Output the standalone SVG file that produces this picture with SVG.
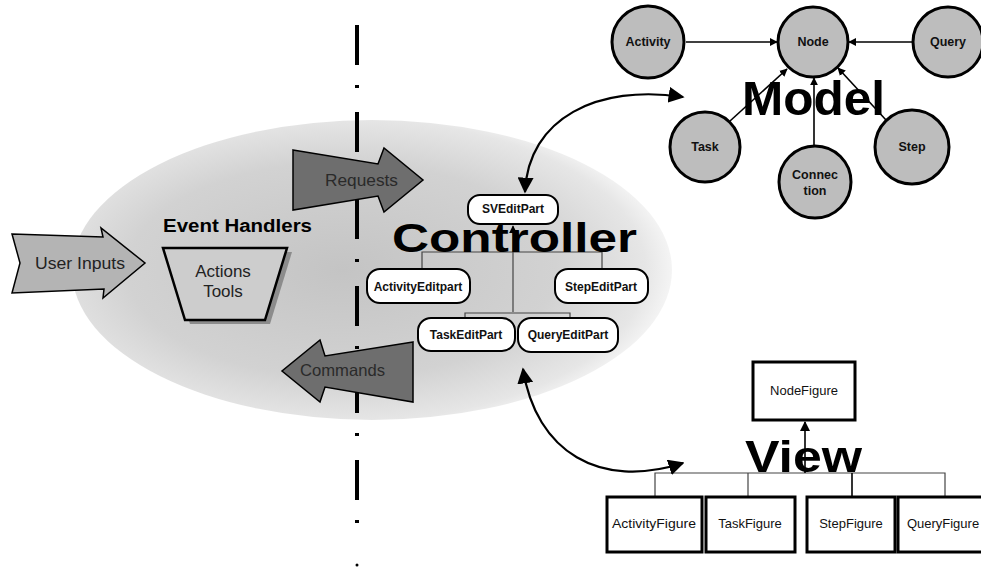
<svg xmlns="http://www.w3.org/2000/svg" width="981" height="570" viewBox="0 0 981 570">
  <defs>
    <radialGradient id="haze" cx="0.45" cy="0.5" r="0.55">
      <stop offset="0" stop-color="#c4c4c4"/>
      <stop offset="0.65" stop-color="#d2d2d2"/>
      <stop offset="0.92" stop-color="#e6e6e6"/>
      <stop offset="1" stop-color="#f4f4f4"/>
    </radialGradient>
    <marker id="ah" viewBox="0 0 10 10" refX="9" refY="5" markerWidth="10" markerHeight="10" markerUnits="userSpaceOnUse" orient="auto-start-reverse">
      <path d="M0,0 L10,5 L0,10 z" fill="#000"/>
    </marker>
    <marker id="ahs" viewBox="0 0 10 10" refX="9" refY="5" markerWidth="8" markerHeight="8" markerUnits="userSpaceOnUse" orient="auto-start-reverse">
      <path d="M0,0 L10,5 L0,10 z" fill="#000"/>
    </marker>
    <marker id="ahb" viewBox="0 0 10 10" refX="9" refY="5" markerWidth="16" markerHeight="16" markerUnits="userSpaceOnUse" orient="auto-start-reverse">
      <path d="M0,0 L10,5 L0,10 z" fill="#000"/>
    </marker>
  </defs>
  <style>
    text { font-family: "Liberation Sans", Arial, sans-serif; }
    .circ { fill: #bdbdbd; stroke: #000; stroke-width: 3; }
    .clbl { font-size: 12.5px; font-weight: bold; fill: #111; text-anchor: middle; }
    .pill { fill: #fff; stroke: #000; stroke-width: 2; }
    .plbl { font-size: 12px; font-weight: bold; fill: #111; text-anchor: middle; }
    .fig { fill: #fff; stroke: #000; stroke-width: 3; }
    .flbl { font-size: 13px; fill: #111; text-anchor: middle; }
    .big { font-weight: bold; fill: #000; }
    .tree { fill: none; stroke: #444; stroke-width: 1.2; }
    .conn { fill: none; stroke: #000; stroke-width: 1.6; }
    .curve { fill: none; stroke: #000; stroke-width: 2.2; }
    .blk { stroke: #000; stroke-width: 1.5; }
  </style>

  <!-- shaded event-handling area -->
  <ellipse cx="372" cy="270" rx="300" ry="150" fill="url(#haze)"/>

  <!-- boundary between input side and editor side -->
  <g id="divider">
    <line x1="357" y1="25" x2="357" y2="528" stroke="#000" stroke-width="4" stroke-dasharray="40 20 3 24"/>
    <circle cx="357" cy="565" r="1.5" fill="#000"/>
  </g>

  <!-- connectors -->
  <g id="connectors">
    <!-- model associations -->
    <path class="conn" d="M686 42 L777 42" marker-end="url(#ahs)"/>
    <path class="conn" d="M912 42 L849 42" marker-end="url(#ahs)"/>
    <path class="conn" d="M730 121 L787 69" marker-end="url(#ahs)"/>
    <path class="conn" d="M814 146 L814 78" marker-end="url(#ahs)"/>
    <path class="conn" d="M886 120 L838 68" marker-end="url(#ahs)"/>
    <!-- edit part tree -->
    <path class="tree" d="M513 312 L513 226" marker-end="url(#ahs)"/>
    <path class="tree" d="M422 269 L422 252 L602 252 L602 269"/>
    <path class="tree" d="M465 318 L465 313 L570 313 L570 318"/>
    <!-- figure tree -->
    <path class="tree" d="M655 497 L655 473 L945 473 L945 497"/>
    <path class="tree" d="M748 473 L748 497"/>
    <path class="conn" d="M852 473 L852 497"/>
    <path class="conn" d="M805 473 L805 422" marker-end="url(#ah)"/>
    <!-- controller to model / view -->
    <path class="curve" d="M525 192 C528 118, 598 84, 683 97" marker-start="url(#ahb)" marker-end="url(#ahb)"/>
    <path class="curve" d="M523 369 C536 452, 600 490, 683 463" marker-start="url(#ahb)" marker-end="url(#ahb)"/>
  </g>

  <!-- input side -->
  <g id="user-inputs">
    <polygon points="12,234 103,237 101,228 145,263 103,298 104,289 12,293 20,263" fill="#b4b4b4" class="blk"/>
    <text x="35" y="269" font-size="16" textLength="90" lengthAdjust="spacingAndGlyphs" fill="#222">User Inputs</text>
  </g>

  <g id="event-handlers">
    <text class="big" x="163" y="232" font-size="18" textLength="149" lengthAdjust="spacingAndGlyphs">Event Handlers</text>
    <polygon points="168,252 292,252 270,324 190,324" fill="#8c8c8c"/>
    <polygon points="163,248 287,248 265,320 185,320" fill="#cdcdcd" stroke="#000" stroke-width="2.5"/>
    <text x="223" y="277" font-size="17" text-anchor="middle" fill="#222">Actions</text>
    <text x="223" y="297" font-size="17" text-anchor="middle" fill="#222">Tools</text>
  </g>

  <g id="requests">
    <polygon points="293,150 378,164 384,148 423,180 384,212 378,196 293,210" fill="#6e6e6e" class="blk"/>
    <text x="325" y="186" font-size="17" textLength="73" lengthAdjust="spacingAndGlyphs" fill="#2a2a2a">Requests</text>
  </g>

  <g id="commands">
    <polygon points="413,342 325,356 320,340 282,371 320,402 325,387 413,402" fill="#6e6e6e" class="blk"/>
    <text x="300" y="376" font-size="16.5" textLength="85" lengthAdjust="spacingAndGlyphs" fill="#2a2a2a">Commands</text>
  </g>

  <!-- controller -->
  <g id="controller-title">
    <text class="big" x="392" y="252" font-size="41" textLength="245" lengthAdjust="spacingAndGlyphs">Controller</text>
  </g>
  <g id="sv-edit-part">
    <rect class="pill" x="468" y="195" width="90" height="29" rx="12"/>
    <text class="plbl" x="513" y="213">SVEditPart</text>
  </g>
  <g id="activity-edit-part">
    <rect class="pill" x="367" y="269" width="103" height="34" rx="13"/>
    <text class="plbl" x="418" y="291">ActivityEditpart</text>
  </g>
  <g id="step-edit-part">
    <rect class="pill" x="555" y="269" width="93" height="34" rx="13"/>
    <text class="plbl" x="601" y="291">StepEditPart</text>
  </g>
  <g id="task-edit-part">
    <rect class="pill" x="418" y="318" width="97" height="33" rx="13"/>
    <text class="plbl" x="466" y="339">TaskEditPart</text>
  </g>
  <g id="query-edit-part">
    <rect class="pill" x="518" y="318" width="100" height="34" rx="13"/>
    <text class="plbl" x="568" y="339">QueryEditPart</text>
  </g>

  <!-- model -->
  <g id="model-title">
    <text class="big" x="742" y="115" font-size="48" textLength="143" lengthAdjust="spacingAndGlyphs">Model</text>
  </g>
  <g id="activity">
    <circle class="circ" cx="648" cy="42" r="36"/>
    <text class="clbl" x="648" y="46">Activity</text>
  </g>
  <g id="node">
    <circle class="circ" cx="813" cy="42" r="35"/>
    <text class="clbl" x="813" y="46" font-weight="normal">Node</text>
  </g>
  <g id="query">
    <circle class="circ" cx="948" cy="42" r="35"/>
    <text class="clbl" x="948" y="46">Query</text>
  </g>
  <g id="task">
    <circle class="circ" cx="705" cy="147" r="35"/>
    <text class="clbl" x="705" y="151">Task</text>
  </g>
  <g id="connection">
    <circle class="circ" cx="815" cy="182" r="36"/>
    <text class="clbl" x="815" y="179">Connec</text>
    <text class="clbl" x="815" y="195">tion</text>
  </g>
  <g id="step">
    <circle class="circ" cx="912" cy="147" r="37"/>
    <text class="clbl" x="912" y="151">Step</text>
  </g>

  <!-- view -->
  <g id="view-title">
    <text class="big" x="745" y="472" font-size="45" textLength="117" lengthAdjust="spacingAndGlyphs">View</text>
  </g>
  <g id="node-figure">
    <rect class="fig" x="753" y="362" width="102" height="58"/>
    <text class="flbl" x="804" y="395" font-size="12">NodeFigure</text>
  </g>
  <g id="activity-figure">
    <rect class="fig" x="607" y="497" width="95" height="55"/>
    <text class="flbl" x="654" y="528" textLength="84" lengthAdjust="spacingAndGlyphs">ActivityFigure</text>
  </g>
  <g id="task-figure">
    <rect class="fig" x="706" y="497" width="89" height="55"/>
    <text class="flbl" x="750" y="528">TaskFigure</text>
  </g>
  <g id="step-figure">
    <rect class="fig" x="807" y="497" width="88" height="55"/>
    <text class="flbl" x="851" y="528">StepFigure</text>
  </g>
  <g id="query-figure">
    <rect class="fig" x="898" y="497" width="90" height="55"/>
    <text class="flbl" x="943" y="528">QueryFigure</text>
  </g>
</svg>
